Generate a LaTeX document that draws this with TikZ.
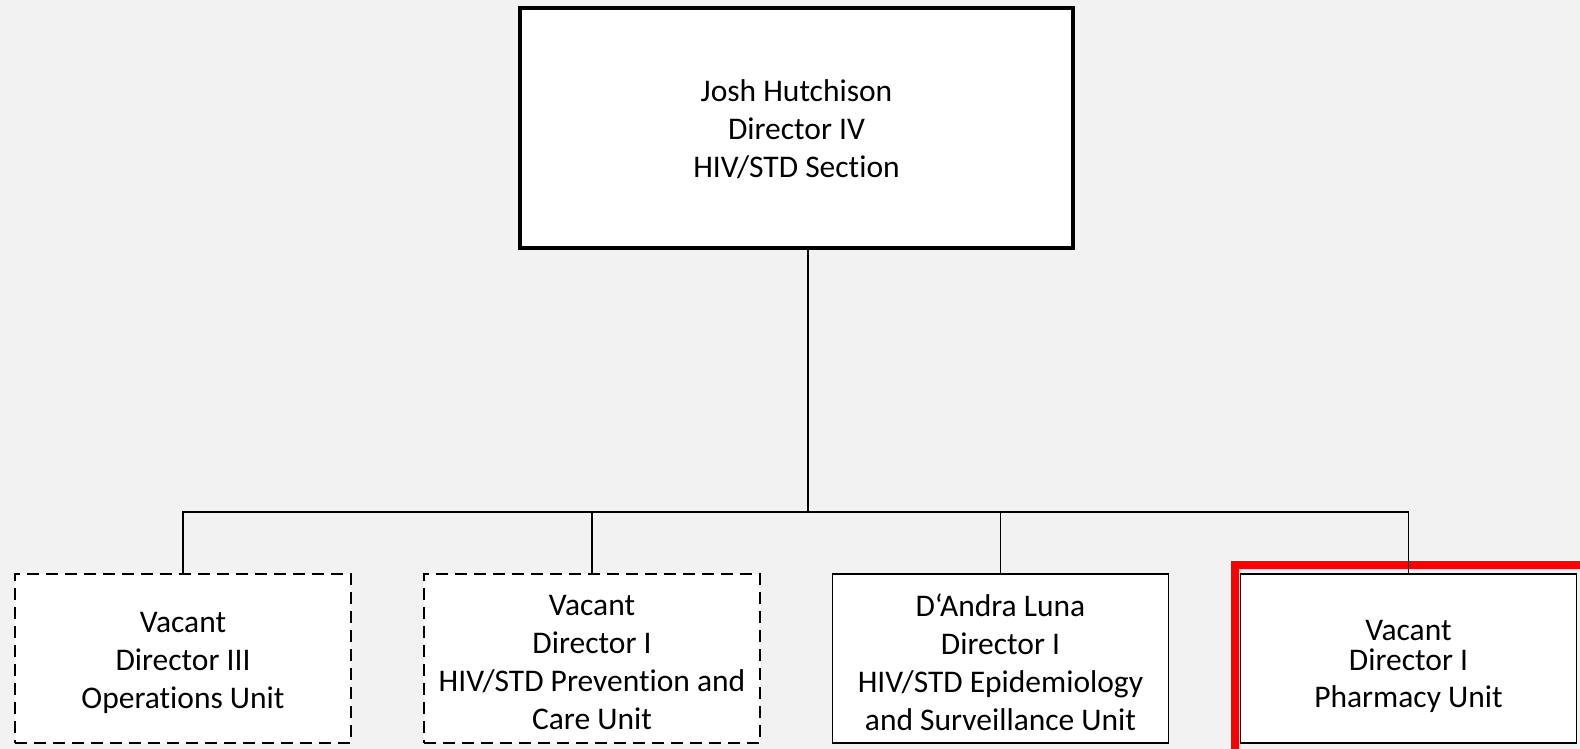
\documentclass[tikz,border=0pt]{standalone}
\usepackage{fontspec}
\setmainfont{Carlito}[RawFeature=-liga]
\definecolor{bg}{HTML}{F2F2F2}
\definecolor{hl}{HTML}{FF0000}
\begin{document}
\begin{tikzpicture}[x=1pt,y=-1pt,
  txt/.style={align=center,font=\fontsize{31.5}{38}\selectfont,text=black,inner sep=0pt},
  topbox/.style={draw=black,fill=white,line width=3.2pt,minimum width=553pt,minimum height=240pt},
  unitbox/.style={draw=black,fill=white,line width=1.5pt,minimum width=336pt,minimum height=169pt,inner sep=0pt},
  vacantbox/.style={unitbox,line width=2.6pt,dash pattern=on 12pt off 7pt},
  conn/.style={draw=black,line width=1.5pt}]
\useasboundingbox (0,0) rectangle (1580,749);
\clip (0,0) rectangle (1580,749);
\fill[bg] (0,0) rectangle (1580,749);
% highlight frame
\draw[hl,line width=8pt] (1235,565) rectangle (1590,760);
\coordinate (bus) at (808,512);
\node[topbox] (top) at (796.5,128) {};
\node[vacantbox] (b1) at (183,658.5) {};
\node[vacantbox] (b2) at (592,658.5) {};
\node[unitbox] (b3) at (1000.5,658.5) {};
\node[unitbox] (b4) at (1408.5,658.5) {};
\node[txt] (top-t) at ([yshift=-1pt]top.center) {Josh Hutchison\\Director IV\\HIV/STD Section};
\node[txt] (b1-t) at ([yshift=-4pt]b1.center) {Vacant\\Director III\\Operations Unit};
\node[txt] (b2-t) at ([yshift=-4pt]b2.center) {Vacant\\Director I\\HIV/STD Prevention and\\Care Unit};
\node[txt] (b3-t) at ([yshift=-4pt]b3.center) {D‘Andra Luna\\Director I\\HIV/STD Epidemiology\\and Surveillance Unit};
\node[txt] (b4-t) at ([yshift=-8pt]b4.center) {Vacant\\[-8pt]Director I\\[-1pt]Pharmacy Unit};
\draw[conn] (top.south -| bus) -- (bus);
\draw[conn] (b1.north) -- (b1.north |- bus) -- (b4.north |- bus) -- (b4.north);
\draw[conn] (b2.north) -- (b2.north |- bus);
\draw[conn] (b3.north) -- (b3.north |- bus);
\end{tikzpicture}
\end{document}
